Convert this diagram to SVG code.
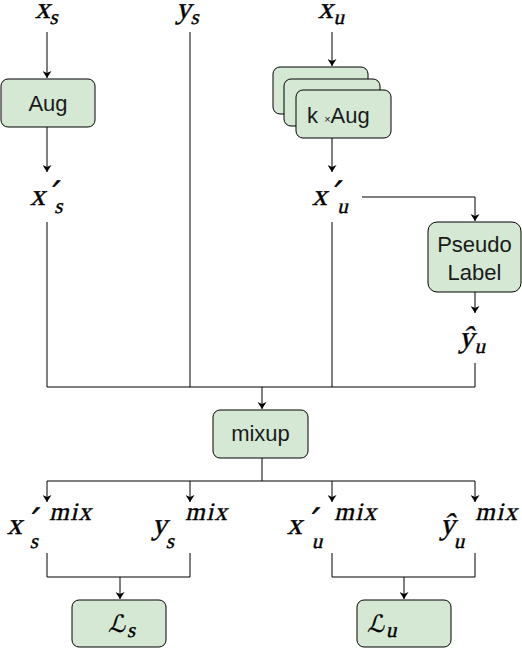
<svg xmlns="http://www.w3.org/2000/svg" width="522" height="648" viewBox="0 0 522 648">
<style>
.box{fill:#d5e8d4;stroke:#000;stroke-width:1}
.lbl{font-family:"Liberation Sans",Arial,sans-serif;font-size:22px;fill:#1a1a1a}
.m{font-family:"Liberation Serif","Times New Roman",serif;font-style:normal;font-size:30px;fill:#000;stroke:#000;stroke-width:0.4}
.s{font-size:21px}
.sup{font-size:25px;letter-spacing:1.5px}
.p{font-family:"DejaVu Sans",sans-serif;font-size:32px;stroke-width:0.8}
.L{font-family:"DejaVu Sans","Noto Sans",sans-serif;font-size:24px;stroke-width:0.3}
.c{fill:none;stroke:#000;stroke-width:1}
</style>
<defs>
<marker id="ar" markerWidth="8" markerHeight="9" refX="7" refY="4.5" orient="auto" markerUnits="userSpaceOnUse">
<path d="M0,0 L7,4.5 L0,9 L2,4.5 Z" fill="#000"/>
</marker>
</defs>
<rect width="522" height="648" fill="#fff"/>
<g id="connectors">
<path class="c" d="M47,32 V78" marker-end="url(#ar)"/>
<path class="c" d="M47,127 V172" marker-end="url(#ar)"/>
<path class="c" d="M332,32 V66" marker-end="url(#ar)"/>
<path class="c" d="M332,138 V172" marker-end="url(#ar)"/>
<path class="c" d="M362,197 H475 V221" marker-end="url(#ar)"/>
<path class="c" d="M475,292 V313" marker-end="url(#ar)"/>
<path class="c" d="M47,222 V387 H475 V363"/>
<path class="c" d="M190,32 V387"/>
<path class="c" d="M332,222 V387"/>
<path class="c" d="M262,387 V409" marker-end="url(#ar)"/>
<path class="c" d="M262,458 V481"/>
<path class="c" d="M47,481 H475"/>
<path class="c" d="M47,481 V502" marker-end="url(#ar)"/>
<path class="c" d="M190,481 V502" marker-end="url(#ar)"/>
<path class="c" d="M332,481 V502" marker-end="url(#ar)"/>
<path class="c" d="M475,481 V502" marker-end="url(#ar)"/>
<path class="c" d="M47,553 V577 H190 V553"/>
<path class="c" d="M120,577 V599" marker-end="url(#ar)"/>
<path class="c" d="M332,553 V577 H475 V553"/>
<path class="c" d="M404,577 V599" marker-end="url(#ar)"/>
</g>
<g id="aug">
<rect class="box" x="1" y="79" width="94" height="48" rx="7"/>
<text class="lbl" x="48" y="111" text-anchor="middle">Aug</text>
</g>
<g id="kaug">
<rect class="box" x="273" y="67" width="95" height="47" rx="7"/>
<rect class="box" x="284" y="79" width="96" height="47" rx="7"/>
<rect class="box" x="296" y="90" width="95" height="48" rx="7"/>
<text class="lbl" x="307" y="123">k <tspan font-size="11">×</tspan><tspan>Aug</tspan></text>
</g>
<g id="pseudo">
<rect class="box" x="428" y="222" width="93" height="70" rx="9"/>
<text class="lbl" x="474.5" y="252" text-anchor="middle">Pseudo</text>
<text class="lbl" x="474.5" y="280" text-anchor="middle">Label</text>
</g>
<g id="mixup">
<rect class="box" x="213" y="410" width="95" height="48" rx="7"/>
<text class="lbl" x="260.5" y="441" text-anchor="middle">mixup</text>
</g>
<g id="loss-s">
<rect class="box" x="72" y="600" width="94" height="47" rx="7"/>
<g transform="translate(108,632) skewX(-12)"><text class="m"><tspan class="L" x="0" y="0">ℒ</tspan><tspan class="s" x="20" y="5">s</tspan></text></g>
</g>
<g id="loss-u">
<rect class="box" x="357" y="600" width="94" height="47" rx="7"/>
<g transform="translate(367,632) skewX(-12)"><text class="m"><tspan class="L" x="0" y="0">ℒ</tspan><tspan class="s" x="20" y="5">u</tspan></text></g>
</g>
<g id="lbl-xs" transform="translate(35,18) skewX(-13)"><text class="m" x="0" y="0">x<tspan class="s" x="16" y="6">s</tspan></text></g>
<g id="lbl-ys" transform="translate(176,18) skewX(-13)"><text class="m" x="0" y="0">y<tspan class="s" x="16" y="6">s</tspan></text></g>
<g id="lbl-xu" transform="translate(318,18) skewX(-13)"><text class="m" x="0" y="0">x<tspan class="s" x="17" y="6">u</tspan></text></g>
<g id="lbl-xps" transform="translate(30,205) skewX(-13)"><text class="m" x="0" y="0">x<tspan class="p" x="18" y="-1">′</tspan><tspan class="s" x="26" y="8">s</tspan></text></g>
<g id="lbl-xpu" transform="translate(312,205) skewX(-13)"><text class="m" x="0" y="0">x<tspan class="p" x="18" y="-1">′</tspan><tspan class="s" x="27" y="8">u</tspan></text></g>
<g id="lbl-yhu" transform="translate(459,347) skewX(-13)"><text class="m" x="0" y="0">ŷ<tspan class="s" x="17" y="6">u</tspan></text></g>
<g id="lbl-xpsm" transform="translate(7,534) skewX(-13)"><text class="m" x="0" y="0">x<tspan class="p" x="20" y="-3">′</tspan><tspan class="s" x="26" y="14">s</tspan><tspan class="sup" x="39" y="-14">mix</tspan></text></g>
<g id="lbl-ysm" transform="translate(152,534) skewX(-13)"><text class="m" x="0" y="0">y<tspan class="s" x="17" y="14">s</tspan><tspan class="sup" x="30" y="-14">mix</tspan></text></g>
<g id="lbl-xpum" transform="translate(287,534) skewX(-13)"><text class="m" x="0" y="0">x<tspan class="p" x="20" y="-3">′</tspan><tspan class="s" x="28" y="14">u</tspan><tspan class="sup" x="44" y="-14">mix</tspan></text></g>
<g id="lbl-yhum" transform="translate(440,534) skewX(-13)"><text class="m" x="0" y="0">ŷ<tspan class="s" x="17" y="14">u</tspan><tspan class="sup" x="32" y="-14">mix</tspan></text></g>
</svg>
